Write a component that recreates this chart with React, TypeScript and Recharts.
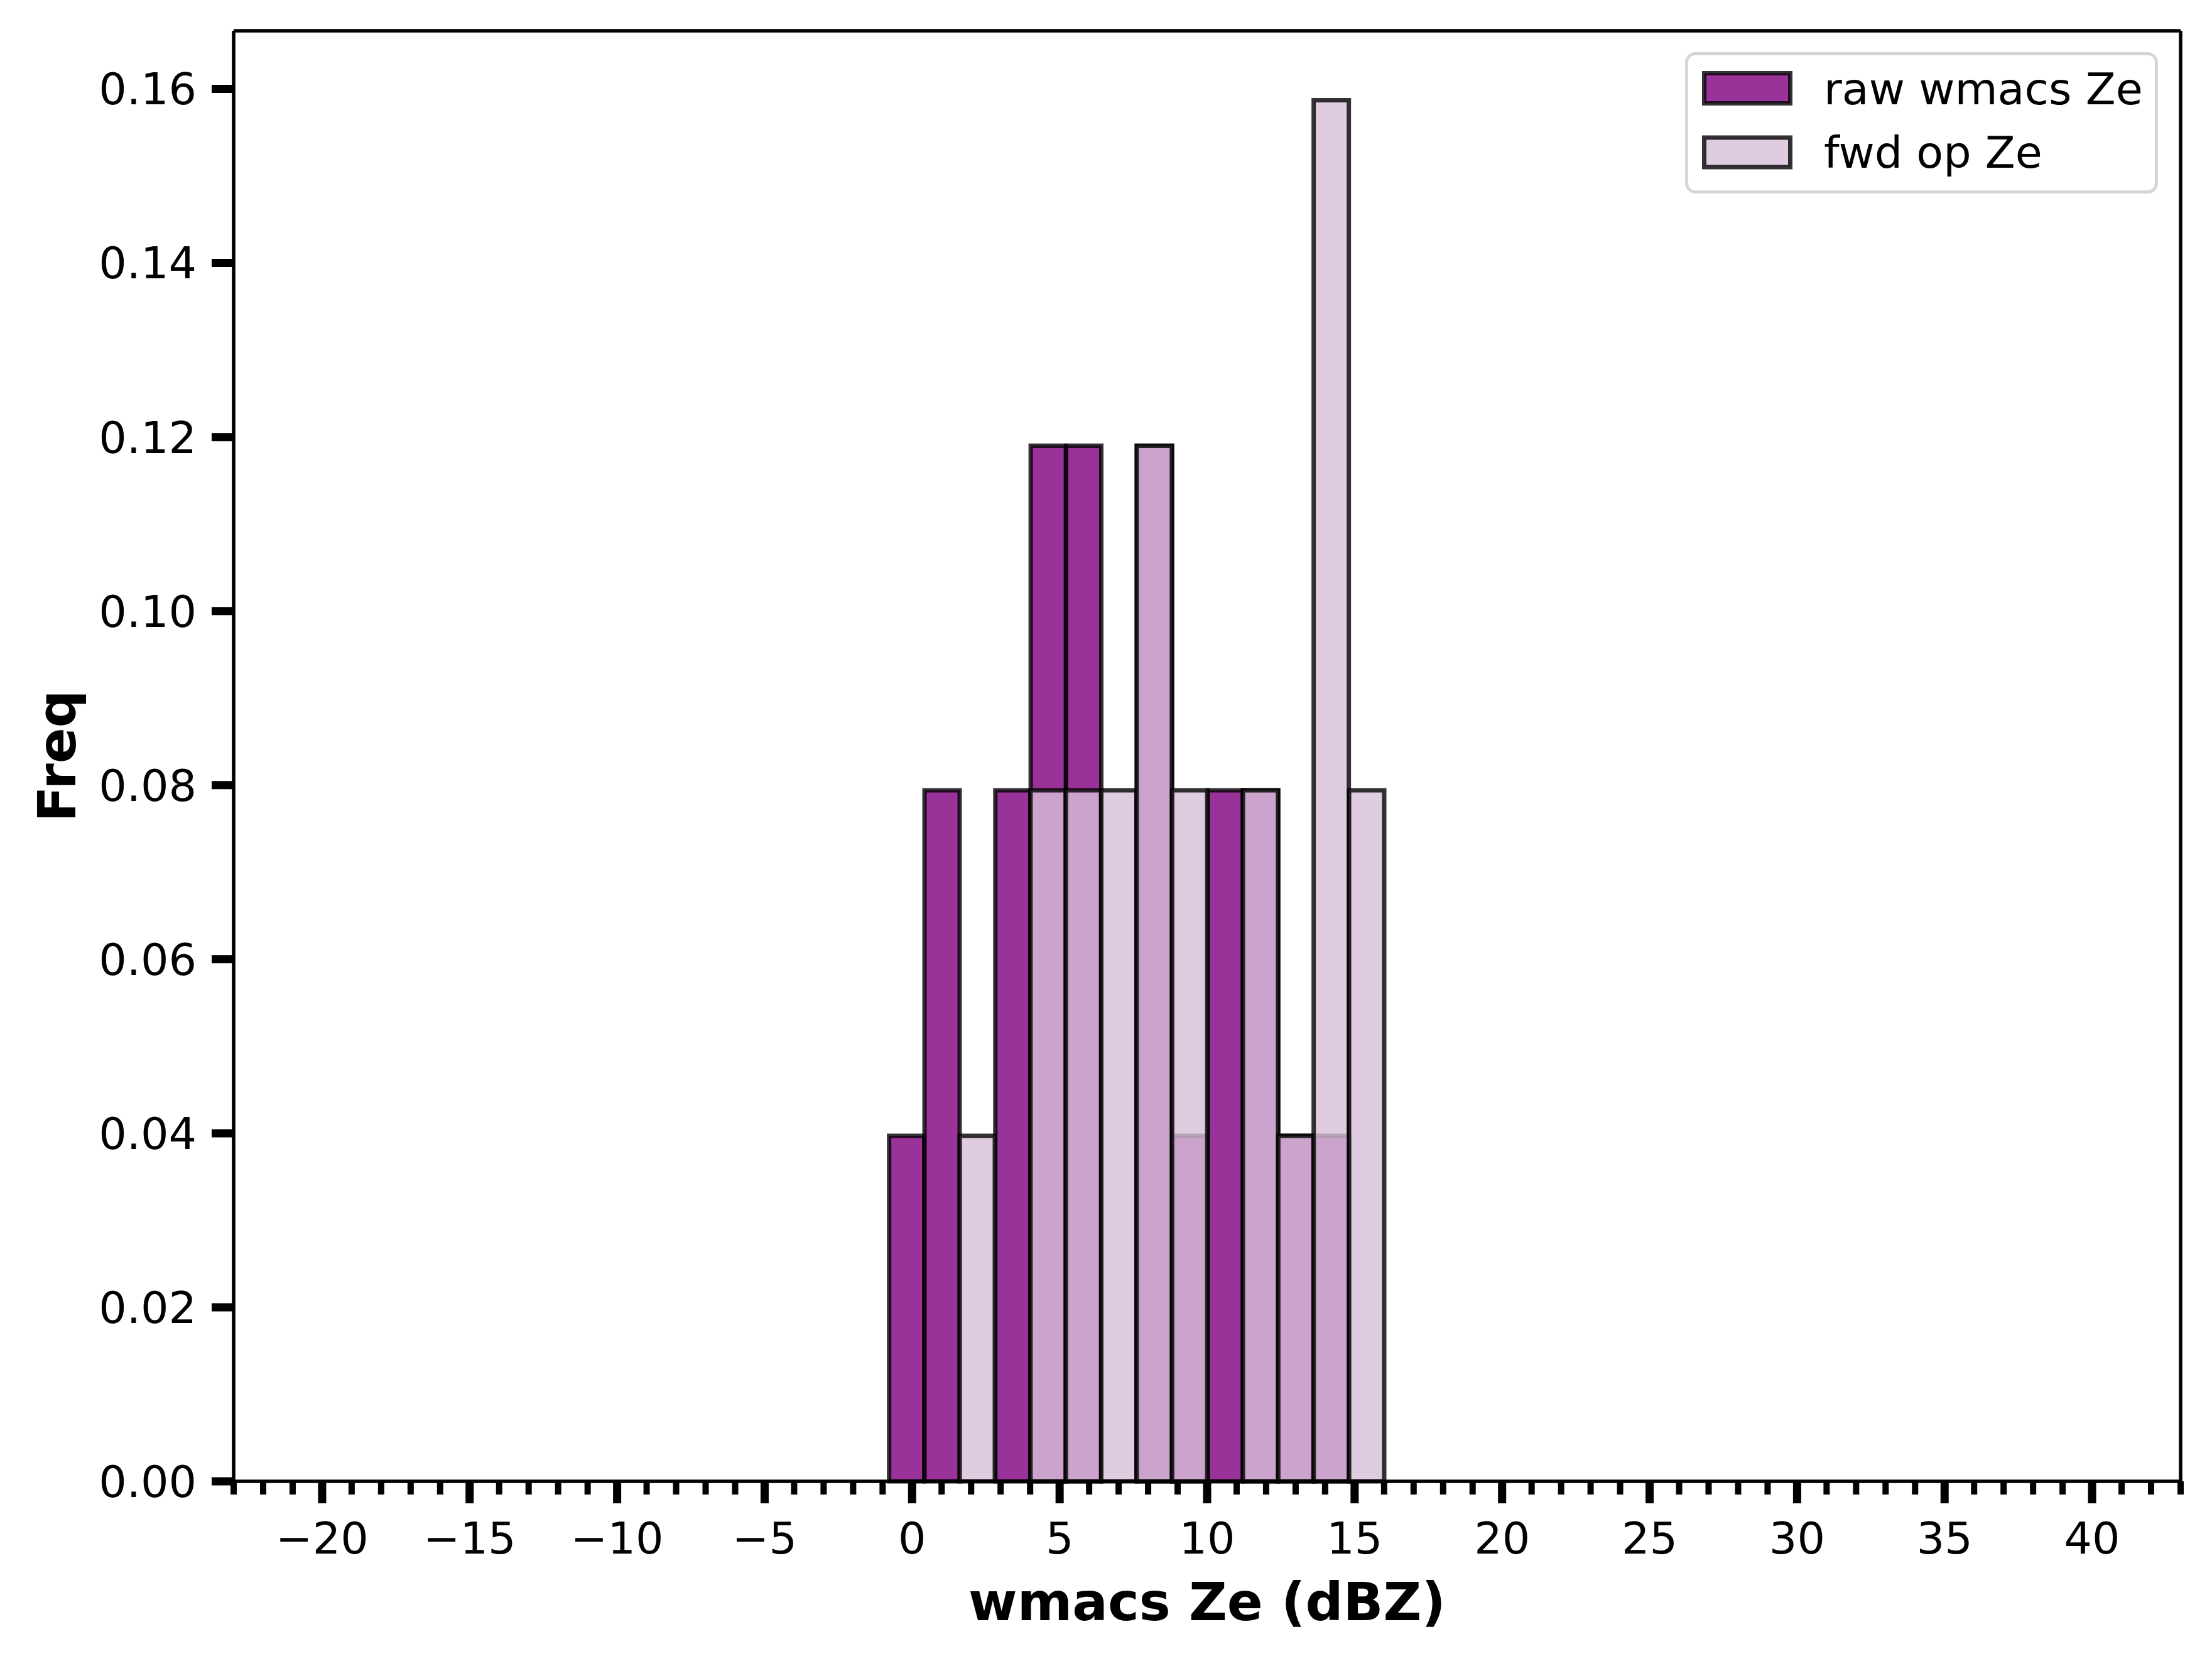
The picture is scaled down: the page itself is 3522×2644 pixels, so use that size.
import React from 'react';
import { BarChart, Bar, XAxis, YAxis, Legend, ReferenceLine } from 'recharts';

// ---- data ----
const binCenters = [-0.18, 1.02, 2.22, 3.42, 4.62, 5.82, 7.02, 8.22, 9.42, 10.62, 11.82, 13.02, 14.22, 15.42];
const rawFreq = [0.0397, 0.0794, 0, 0.0794, 0.119, 0.119, 0, 0.119, 0.0397, 0.0794, 0.0794, 0.0397, 0.0397, 0];
const fwdFreq = [0, 0, 0.0397, 0, 0.0794, 0.0794, 0.0794, 0.119, 0.0794, 0, 0.0794, 0.0397, 0.1587, 0.0794];
const seriesNames = ['raw wmacs Ze', 'fwd op Ze'];
const xTicks = Array.from({ length: 67 }, (_, i) => i - 23);
const yTicks = [0, 0.02, 0.04, 0.06, 0.08, 0.1, 0.12, 0.14, 0.16];
const X_DOMAIN: [number, number] = [-23, 43];
const Y_DOMAIN: [number, number] = [0, 0.16668];
const xLabel = 'wmacs Ze (dBZ)';
const yLabel = 'Freq';

const data = binCenters.map((x, i) => ({ x, raw: rawFreq[i], fwd: fwdFreq[i] }));

const FONT = 'DejaVu Sans';
const RAW_COLOR = '#800080';
const FWD_COLOR = '#d8bfd8';

const fmtX = (v: number) => (v < 0 ? '\u2212' + Math.abs(v) : String(v));

const XTick = (props: any) => {
  const { x, y, payload } = props;
  const v = payload.value;
  const major = v % 5 === 0;
  return (
    <g>
      <line x1={x} x2={x} y1={y} y2={y + (major ? 35 : 21)} stroke="#000" strokeWidth={major ? 13 : 10} />
      {major && (
        <text x={x} y={y + 115} textAnchor="middle" fontSize={70} fontFamily={FONT} fill="#000">
          {fmtX(v)}
        </text>
      )}
    </g>
  );
};

const XLabel = (props: any) => {
  const vb = props.viewBox || {};
  return (
    <text
      x={vb.x + vb.width / 2}
      y={vb.y + 221}
      textAnchor="middle"
      fontSize={84}
      fontWeight="bold"
      fontFamily={FONT}
      fill="#000"
    >
      {xLabel}
    </text>
  );
};

const YLabel = (props: any) => {
  const vb = props.viewBox || {};
  const cx = vb.x + 120;
  const cy = vb.y + vb.height / 2;
  return (
    <text
      x={cx}
      y={cy}
      transform={`rotate(-90 ${cx} ${cy})`}
      textAnchor="middle"
      fontSize={84}
      fontWeight="bold"
      fontFamily={FONT}
      fill="#000"
    >
      {yLabel}
    </text>
  );
};

const LegendBox = (props: any) => {
  const payload = props.payload || [];
  const ordered = seriesNames
    .map((n) => payload.find((e: any) => e.value === n))
    .filter(Boolean);
  const rows = [
    { y: 36.5, h: 48, ty: 86 },
    { y: 139, h: 47, ty: 187 },
  ];
  return (
    <svg width={760} height={232} style={{ display: 'block' }}>
      <rect x={5.5} y={5.5} width={748} height={220} rx={14} ry={14} fill="#fff" fillOpacity={0.8} stroke="#cccccc" strokeOpacity={0.8} strokeWidth={5} />
      {ordered.map((entry: any, i: number) => (
        <g key={i}>
          <rect x={33.5} y={rows[i].y} width={137} height={rows[i].h} fill={entry.color} fillOpacity={0.8} stroke="#000" strokeOpacity={0.8} strokeWidth={7} />
          <text x={224} y={rows[i].ty} fontSize={70} fontFamily={FONT} fill="#000">
            {entry.value}
          </text>
        </g>
      ))}
    </svg>
  );
};

export default function App() {
  return (
    <div style={{ position: 'absolute', left: 0, top: 0, width: 3522, height: 2644, background: '#fff' }}>
      <BarChart
        width={3522}
        height={2644}
        data={data}
        margin={{ top: 49, right: 50, left: 0, bottom: 0 }}
        barCategoryGap={0}
        barGap="-100%"
      >
        <XAxis
          dataKey="x"
          type="number"
          domain={X_DOMAIN}
          ticks={xTicks}
          interval={0}
          height={286}
          tickSize={0}
          tickMargin={0}
          tickLine={false}
          tick={<XTick />}
          axisLine={{ stroke: '#000', strokeWidth: 5.6 }}
          label={<XLabel />}
        />
        <YAxis
          type="number"
          domain={Y_DOMAIN}
          ticks={yTicks}
          interval={0}
          width={372}
          tickSize={35}
          tickMargin={24}
          tickFormatter={(v: number) => v.toFixed(2)}
          tickLine={{ stroke: '#000', strokeWidth: 13 }}
          tick={{ fontSize: 70, fontFamily: FONT, fill: '#000' }}
          axisLine={{ stroke: '#000', strokeWidth: 5.6 }}
          label={<YLabel />}
        />
        <ReferenceLine y={Y_DOMAIN[1]} stroke="#000" strokeWidth={5.6} ifOverflow="visible" />
        <ReferenceLine x={X_DOMAIN[1]} stroke="#000" strokeWidth={5.6} ifOverflow="visible" />
        <Bar
          dataKey="raw"
          name={seriesNames[0]}
          fill={RAW_COLOR}
          fillOpacity={0.8}
          stroke="#000"
          strokeOpacity={0.8}
          strokeWidth={7}
          isAnimationActive={false}
        />
        <Bar
          dataKey="fwd"
          name={seriesNames[1]}
          fill={FWD_COLOR}
          fillOpacity={0.8}
          stroke="#000"
          strokeOpacity={0.8}
          strokeWidth={7}
          isAnimationActive={false}
        />
        <Legend
          layout="horizontal"
          verticalAlign="middle"
          align="center"
          content={<LegendBox />}
          wrapperStyle={{ left: 2680, top: 80, width: 760, height: 232 }}
        />
      </BarChart>
    </div>
  );
}
